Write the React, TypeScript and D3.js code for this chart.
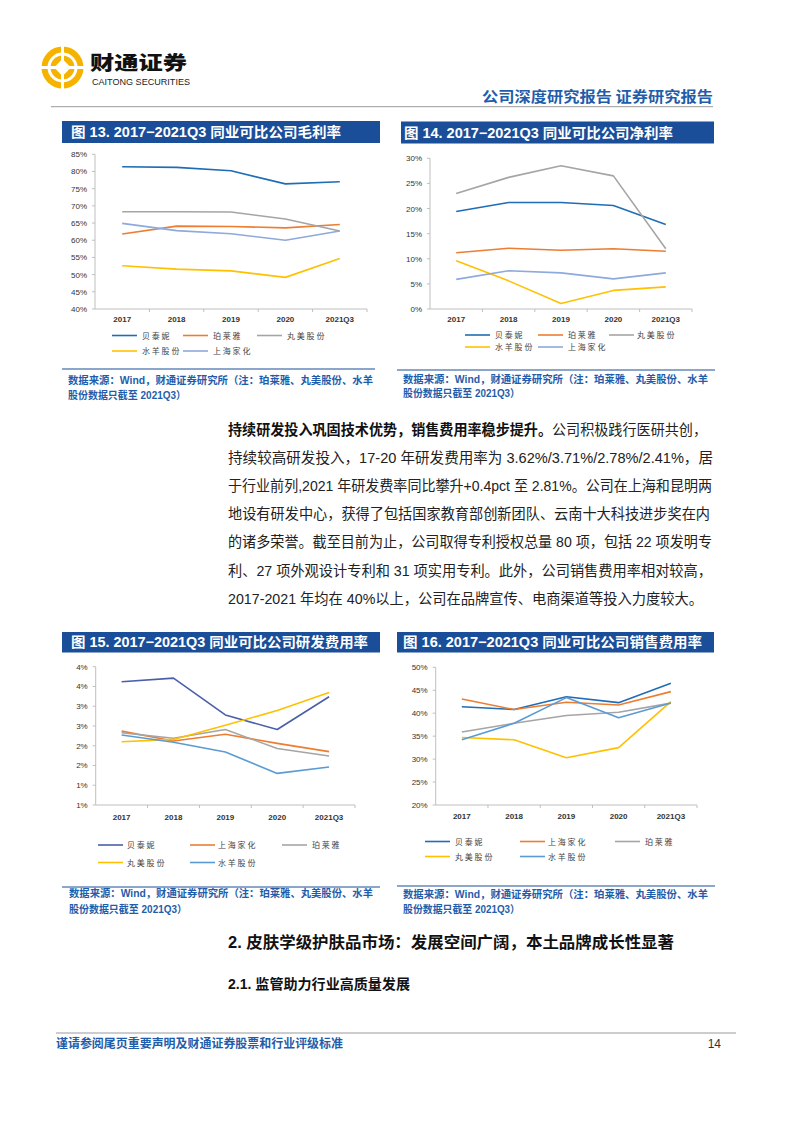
import React from "react";
import * as d3 from "d3";

// ---------- DATA ----------
const years = ["2017", "2018", "2019", "2020", "2021Q3"];

// 图13 毛利率 (%)
const gm_beitaini = [81.4, 81.2, 80.2, 76.4, 77.0];
const gm_proya = [61.8, 64.1, 64.0, 63.6, 64.6];
const gm_marubi = [68.3, 68.3, 68.2, 66.2, 62.7];
const gm_shuiyang = [52.6, 51.6, 51.1, 49.2, 54.7];
const gm_jahwa = [64.9, 62.8, 61.9, 60.0, 62.7];
const gm_ticks = [40, 45, 50, 55, 60, 65, 70, 75, 80, 85];
const gm_tickLabels = ["40%", "45%", "50%", "55%", "60%", "65%", "70%", "75%", "80%", "85%"];

// 图14 净利率 (%)
const np_beitaini = [19.4, 21.2, 21.2, 20.6, 16.8];
const np_proya = [11.2, 12.1, 11.7, 12.0, 11.5];
const np_marubi = [23.0, 26.2, 28.5, 26.5, 12.0];
const np_shuiyang = [9.6, 5.6, 1.1, 3.7, 4.4];
const np_jahwa = [5.9, 7.6, 7.2, 6.0, 7.2];
const np_ticks = [0, 5, 10, 15, 20, 25, 30];
const np_tickLabels = ["0%", "5%", "10%", "15%", "20%", "25%", "30%"];

// 图15 研发费用率 (%)
const rd_beitaini = [3.62, 3.71, 2.78, 2.41, 3.24];
const rd_jahwa = [2.37, 2.12, 2.29, 2.06, 1.85];
const rd_proya = [2.33, 2.19, 2.41, 1.93, 1.74];
const rd_marubi = [2.10, 2.16, 2.52, 2.89, 3.35];
const rd_shuiyang = [2.27, 2.09, 1.84, 1.30, 1.46];
const rd_ticks = [0.5, 1.0, 1.5, 2.0, 2.5, 3.0, 3.5, 4.0];
const rd_tickLabels = ["1%", "1%", "2%", "2%", "3%", "3%", "4%", "4%"];

// 图16 销售费用率 (%)
const se_beitaini = [41.4, 40.8, 43.6, 42.3, 46.5];
const se_jahwa = [43.1, 40.8, 42.4, 41.8, 44.7];
const se_proya = [35.9, 37.8, 39.5, 40.2, 42.2];
const se_marubi = [34.7, 34.2, 30.3, 32.5, 42.5];
const se_shuiyang = [34.2, 37.8, 43.4, 39.0, 42.2];
const se_ticks = [20, 25, 30, 35, 40, 45, 50];
const se_tickLabels = ["20%", "25%", "30%", "35%", "40%", "45%", "50%"];

const sourceLines = [
  "数据来源：Wind，财通证券研究所（注：珀莱雅、丸美股份、水羊",
  "股份数据只截至 2021Q3）",
];

const bodyLines = [
  "公司积极践行医研共创，",
  "持续较高研发投入，17-20 年研发费用率为 3.62%/3.71%/2.78%/2.41%，居",
  "于行业前列,2021 年研发费率同比攀升+0.4pct 至 2.81%。公司在上海和昆明两",
  "地设有研发中心，获得了包括国家教育部创新团队、云南十大科技进步奖在内",
  "的诸多荣誉。截至目前为止，公司取得专利授权总量 80 项，包括 22 项发明专",
  "利、27 项外观设计专利和 31 项实用专利。此外，公司销售费用率相对较高，",
  "2017-2021 年均在 40%以上，公司在品牌宣传、电商渠道等投入力度较大。",
];
const bodyBold = "持续研发投入巩固技术优势，销售费用率稳步提升。";

// ---------- STYLE ----------
const LAT = "'Liberation Sans', Arial, 'Noto Sans CJK SC', sans-serif";
const CJK = "'Noto Sans CJK SC', sans-serif";
const BLUE_BAR = "#1B4E98";
const BLUE_TXT = "#1F5DAA";
const C_BLUE = "#1F6DB5";
const C_ORANGE = "#ED7D31";
const C_GRAY = "#A5A5A5";
const C_YELLOW = "#FFC000";
const C_LBLUE = "#8EA9DB";
const C_INDIGO = "#4A5FA8";
const C_STEEL = "#5B9BD5";
const AXIS = "#BFBFBF";

type Series = { name: string; values: number[]; color: string };
type Cfg = {
  title: string;
  bar: [number, number, number, number];
  titleX: number; titleBase: number; titleW: number;
  xl: number; xr: number; yt: number; yb: number;
  domain: [number, number];
  ticks: number[]; tickLabels: string[];
  labelBase: number;
  series: Series[];
  legend: { lx1: number; lx2: number; tx: number; y: number; s: number }[];
  rule: [number, number, number];
  srcX: number; srcY: [number, number]; srcW: [number, number];
};

function LineChart({ c }: { c: Cfg }) {
  const x = d3.scaleBand<string>().domain(years).range([c.xl, c.xr]);
  const y = d3.scaleLinear().domain(c.domain).range([c.yb, c.yt]);
  const cx = (i: number) => (x(years[i]) as number) + x.bandwidth() / 2;
  const line = d3.line<number>().x((_, i) => cx(i)).y((d) => y(d));
  const [bx, by, bw, bh] = c.bar;
  return (
    <g>
      <rect x={bx} y={by} width={bw} height={bh} fill={BLUE_BAR} />
      <text x={c.titleX} y={c.titleBase} fill="#fff" fontFamily={LAT} fontWeight={700} fontSize={14}
        textLength={c.titleW} lengthAdjust="spacingAndGlyphs">{c.title}</text>
      {/* y axis */}
      <line x1={c.xl} x2={c.xl} y1={c.yt} y2={c.yb} stroke={AXIS} strokeWidth={1} />
      {c.ticks.map((t, i) => (
        <g key={"t" + i}>
          <line x1={c.xl - 3} x2={c.xl} y1={y(t)} y2={y(t)} stroke={AXIS} />
          <text x={c.xl - 8} y={y(t) + 3} textAnchor="end" fontFamily={LAT} fontSize={8} fill="#333">
            {c.tickLabels[i]}
          </text>
        </g>
      ))}
      {/* x axis */}
      <line x1={c.xl} x2={c.xr} y1={c.yb} y2={c.yb} stroke={AXIS} strokeWidth={1} />
      {years.map((yr, i) => (
        <g key={yr}>
          <line x1={(x(yr) as number) + x.bandwidth()} x2={(x(yr) as number) + x.bandwidth()} y1={c.yb} y2={c.yb + 3} stroke={AXIS} />
          <text x={cx(i)} y={c.labelBase} textAnchor="middle" fontFamily={LAT} fontSize={8} fontWeight={700} fill="#333">
            {yr}
          </text>
        </g>
      ))}
      {c.series.map((s) => (
        <path key={s.name} d={line(s.values) as string} fill="none" stroke={s.color} strokeWidth={1.6} strokeLinejoin="round" />
      ))}
      {c.legend.map((l, i) => {
        const s = c.series[l.s];
        return (
          <g key={"l" + i}>
            <line x1={l.lx1} x2={l.lx2} y1={l.y} y2={l.y} stroke={s.color} strokeWidth={1.6} />
            <text x={l.tx} y={l.y + 3} fontFamily={CJK} fontSize={8} letterSpacing={1.8} fill="#444">
              {s.name}
            </text>
          </g>
        );
      })}
      <line x1={c.rule[0]} x2={c.rule[1]} y1={c.rule[2]} y2={c.rule[2]} stroke={BLUE_BAR} strokeWidth={1.2} />
      {sourceLines.map((t, i) => (
        <text key={"s" + i} x={c.srcX} y={c.srcY[i]} fontFamily={LAT} fontWeight={700} fontSize={10.5} fill={BLUE_TXT}
          textLength={c.srcW[i]} lengthAdjust="spacingAndGlyphs">{t}</text>
      ))}
    </g>
  );
}

const legendA = (xs: [number, number, number], xt: [number, number, number], r1: number, r2: number) => [
  { lx1: xs[0], lx2: xs[0] + 25, tx: xt[0], y: r1, s: 0 },
  { lx1: xs[1], lx2: xs[1] + 25, tx: xt[1], y: r1, s: 1 },
  { lx1: xs[2], lx2: xs[2] + 25, tx: xt[2], y: r1, s: 2 },
  { lx1: xs[0], lx2: xs[0] + 25, tx: xt[0], y: r2, s: 3 },
  { lx1: xs[1], lx2: xs[1] + 25, tx: xt[1], y: r2, s: 4 },
];

const chart13: Cfg = {
  title: "图 13. 2017−2021Q3 同业可比公司毛利率",
  bar: [62, 121, 318, 22], titleX: 71, titleBase: 137, titleW: 270,
  xl: 95, xr: 367, yt: 154.3, yb: 309, domain: [40, 85], ticks: gm_ticks, tickLabels: gm_tickLabels,
  labelBase: 322,
  series: [
    { name: "贝泰妮", values: gm_beitaini, color: C_BLUE },
    { name: "珀莱雅", values: gm_proya, color: C_ORANGE },
    { name: "丸美股份", values: gm_marubi, color: C_GRAY },
    { name: "水羊股份", values: gm_shuiyang, color: C_YELLOW },
    { name: "上海家化", values: gm_jahwa, color: C_LBLUE },
  ],
  legend: legendA([112, 183, 257], [142, 213, 287], 335.5, 351),
  rule: [62, 375, 369], srcX: 68, srcY: [384, 398.5], srcW: [305, 118],
};

const chart14: Cfg = {
  title: "图 14. 2017−2021Q3 同业可比公司净利率",
  bar: [401, 121.5, 313, 22], titleX: 404, titleBase: 137.5, titleW: 269,
  xl: 430, xr: 692, yt: 158.3, yb: 309, domain: [0, 30], ticks: np_ticks, tickLabels: np_tickLabels,
  labelBase: 322,
  series: [
    { name: "贝泰妮", values: np_beitaini, color: C_BLUE },
    { name: "珀莱雅", values: np_proya, color: C_ORANGE },
    { name: "丸美股份", values: np_marubi, color: C_GRAY },
    { name: "水羊股份", values: np_shuiyang, color: C_YELLOW },
    { name: "上海家化", values: np_jahwa, color: C_LBLUE },
  ],
  legend: legendA([465, 538, 609], [495, 568, 637], 335, 347),
  rule: [397, 715, 370], srcX: 403, srcY: [382.5, 397], srcW: [305, 117],
};

const chart15: Cfg = {
  title: "图 15. 2017−2021Q3 同业可比公司研发费用率",
  bar: [62, 632, 318, 20.5], titleX: 71, titleBase: 647, titleW: 297,
  xl: 95.7, xr: 355, yt: 666.7, yb: 805, domain: [0.5, 4.0], ticks: rd_ticks, tickLabels: rd_tickLabels,
  labelBase: 820,
  series: [
    { name: "贝泰妮", values: rd_beitaini, color: C_INDIGO },
    { name: "上海家化", values: rd_jahwa, color: C_ORANGE },
    { name: "珀莱雅", values: rd_proya, color: C_GRAY },
    { name: "丸美股份", values: rd_marubi, color: C_YELLOW },
    { name: "水羊股份", values: rd_shuiyang, color: C_STEEL },
  ],
  legend: legendA([98, 190, 282], [127, 218, 312], 845, 862.5),
  rule: [62, 380, 887], srcX: 69, srcY: [897, 913], srcW: [304, 118],
};

const chart16: Cfg = {
  title: "图 16. 2017−2021Q3 同业可比公司销售费用率",
  bar: [397, 632, 317, 20.5], titleX: 403, titleBase: 647, titleW: 299,
  xl: 435.7, xr: 697, yt: 667.3, yb: 805, domain: [20, 50], ticks: se_ticks, tickLabels: se_tickLabels,
  labelBase: 819,
  series: [
    { name: "贝泰妮", values: se_beitaini, color: C_BLUE },
    { name: "上海家化", values: se_jahwa, color: C_ORANGE },
    { name: "珀莱雅", values: se_proya, color: C_GRAY },
    { name: "丸美股份", values: se_marubi, color: C_YELLOW },
    { name: "水羊股份", values: se_shuiyang, color: C_STEEL },
  ],
  legend: legendA([425, 520, 615], [455, 548, 645], 841.5, 856.5),
  rule: [397, 715, 886], srcX: 403, srcY: [898, 912.5], srcW: [305, 117],
};

const bodyEnds = [707, 713, 712, 710, 712, 712, 703];

export default function App() {
  const bodyY0 = 434.5;
  const bodyStep = 28.2;
  return (
    <svg width={794} height={1123} viewBox="0 0 794 1123"
      style={{ position: "absolute", left: 0, top: 0, background: "#fff" }}>
      <rect x={0} y={0} width={794} height={1123} fill="#fff" />
      {/* Header logo */}
      <g transform="translate(62.5,67.5)">
        <circle r={21} fill="#F5B300" />
        <circle r={15} fill="#fff" />
        <circle r={12} fill="#F5B300" />
        <rect x={-6} y={-6} width={12} height={12} fill="#fff" transform="rotate(45)" rx={1.5} />
        <rect x={-22} y={-1.5} width={44} height={3} fill="#fff" />
        <rect x={-1.5} y={-22} width={3} height={44} fill="#fff" />
      </g>
      <text x={90} y={69.5} fontFamily={CJK} fontWeight={900} fontSize={19} fill="#111" textLength={97} lengthAdjust="spacingAndGlyphs">财通证券</text>
      <text x={92} y={84.5} fontFamily={LAT} fontSize={9} fill="#222" textLength={98} lengthAdjust="spacingAndGlyphs">CAITONG SECURITIES</text>
      <line x1={51} x2={713} y1={106.7} y2={106.7} stroke="#9a9a9a" strokeWidth={1} />
      <text x={482} y={102} fontFamily={CJK} fontWeight={700} fontSize={14.5} fill={BLUE_TXT} textLength={231} lengthAdjust="spacingAndGlyphs">公司深度研究报告  证券研究报告</text>

      <LineChart c={chart13} />
      <LineChart c={chart14} />

      {/* body text */}
      {bodyLines.map((t, i) => (
        <text key={"b" + i} x={228} y={bodyY0 + i * bodyStep} fontFamily={LAT} fontSize={14.5} fill="#222"
          textLength={bodyEnds[i] - 228} lengthAdjust="spacingAndGlyphs">
          {i === 0 ? (
            <>
              <tspan fontWeight={700} fontFamily={CJK} fill="#111">{bodyBold}</tspan>
              <tspan>{t}</tspan>
            </>
          ) : t}
        </text>
      ))}

      <LineChart c={chart15} />
      <LineChart c={chart16} />

      <text x={228} y={947.5} fontFamily={LAT} fontWeight={700} fontSize={16} fill="#111" textLength={446} lengthAdjust="spacingAndGlyphs">2.  皮肤学级护肤品市场：发展空间广阔，本土品牌成长性显著</text>
      <text x={228} y={988.5} fontFamily={LAT} fontWeight={700} fontSize={14} fill="#111" textLength={182} lengthAdjust="spacingAndGlyphs">2.1. 监管助力行业高质量发展</text>

      <line x1={56} x2={736} y1={1033} y2={1033} stroke="#9a9a9a" strokeWidth={1} />
      <text x={56} y={1048} fontFamily={CJK} fontWeight={700} fontSize={12} fill={BLUE_TXT} textLength={287} lengthAdjust="spacingAndGlyphs">谨请参阅尾页重要声明及财通证券股票和行业评级标准</text>
      <text x={721} y={1048} textAnchor="end" fontFamily={LAT} fontSize={12} fill="#333">14</text>
    </svg>
  );
}
